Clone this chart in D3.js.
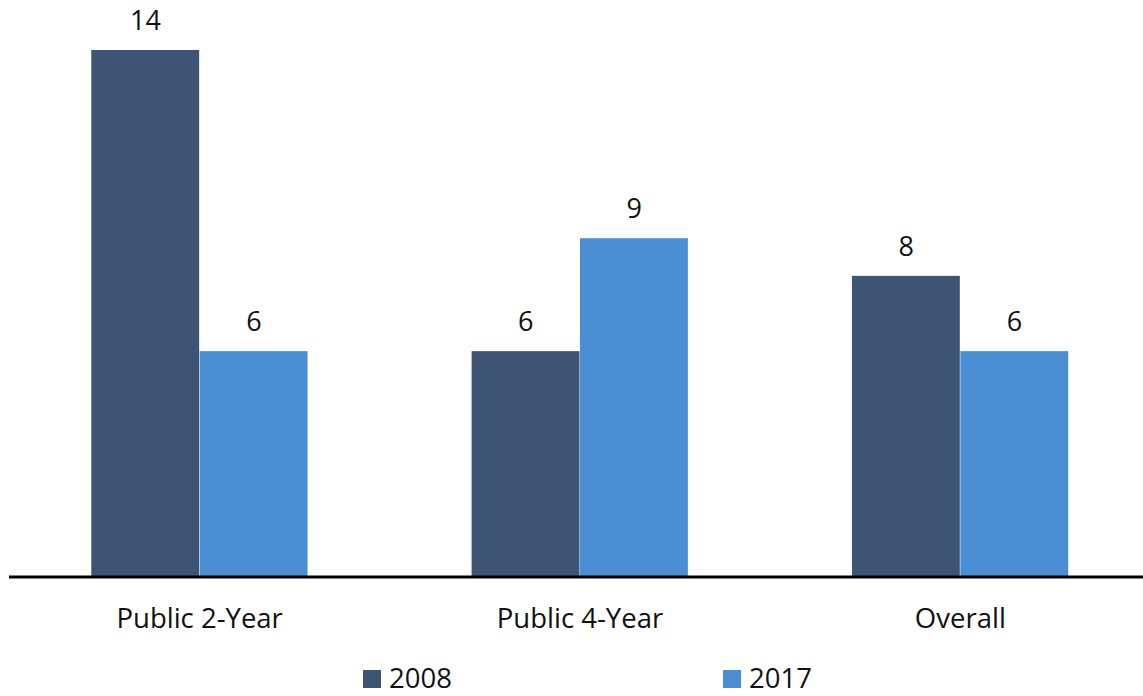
<!DOCTYPE html>
<html><head><meta charset="utf-8">
<script src="https://cdn.jsdelivr.net/npm/d3@7"></script>
<style>body{margin:0;background:#fff}svg{display:block}text{font-family:"Open Sans",sans-serif;fill:#111}</style>
</head><body><svg id="c" width="1143" height="696"></svg>
<script>
const categories = ["Public 2-Year", "Public 4-Year", "Overall"];
const seriesNames = ["2008", "2017"];
const values2008 = [14, 6, 8];
const values2017 = [6, 9, 6];
const colors = ["#3E5475", "#4A8FD4"];

const svg = d3.select("#c");
const x0 = d3.scaleBand().domain(categories).range([9.5, 1150.5]).paddingInner(0.43).paddingOuter(0.215);
const x1 = d3.scaleBand().domain(seriesNames).range([0, x0.bandwidth()]);
const y = d3.scaleLinear().domain([0, 14]).range([577, 50]);

const series = [values2008, values2017];
categories.forEach((c, i) => {
  const g = svg.append("g").attr("transform", `translate(${x0(c)},0)`);
  seriesNames.forEach((s, j) => {
    const v = series[j][i];
    g.append("rect").attr("x", x1(s)).attr("y", y(v)).attr("width", x1.bandwidth() - 0.5)
      .attr("height", y(0) - y(v)).attr("fill", colors[j]);
    g.append("text").attr("x", x1(s) + x1.bandwidth() / 2).attr("y", y(v) - 20)
      .attr("text-anchor", "middle").attr("font-size", 27).text(v);
  });
});

const ax = svg.append("g").attr("transform", "translate(0,577)")
  .call(d3.axisBottom(x0).tickSize(0).tickPadding(31));
ax.select(".domain").attr("d", "M9,0H1143").attr("stroke", "#000").attr("stroke-width", 3);
ax.selectAll("text").attr("font-size", 27.5).attr("font-family", "'Open Sans',sans-serif").attr("fill", "#111");

const legX = [363, 723];
seriesNames.forEach((s, j) => {
  svg.append("rect").attr("x", legX[j]).attr("y", 670).attr("width", 18).attr("height", 18).attr("fill", colors[j]);
  svg.append("text").attr("x", legX[j] + 26).attr("y", 688).attr("font-size", 27.5).text(s);
});
</script></body></html>
